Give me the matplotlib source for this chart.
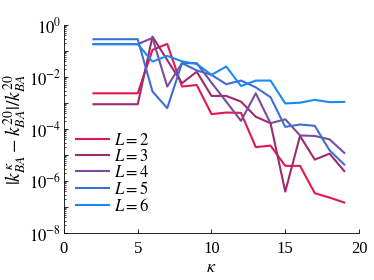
import numpy as np
import matplotlib
matplotlib.use('Agg')
import matplotlib.pyplot as plt
from matplotlib.ticker import LogLocator, FixedLocator, FuncFormatter, NullFormatter

plt.rcParams['font.family'] = 'Liberation Serif'
plt.rcParams['mathtext.fontset'] = 'stix'

kappa = list(range(2, 20))

# log10 of the relative error
L2 = [-2.63, -2.63, -2.63, -2.63, -0.96, -0.73, -2.37, -2.31, -3.43, -3.37,
      -3.38, -4.70, -4.64, -5.42, -5.42, -6.47, -6.64, -6.83]
L3 = [-3.05, -3.05, -3.05, -3.05, -0.45, -1.35, -2.24, -1.80, -2.73, -2.73,
      -2.95, -3.53, -3.78, -6.41, -4.27, -5.18, -4.95, -5.62]
L4 = [-0.74, -0.74, -0.74, -0.74, -0.50, -2.37, -1.47, -1.47, -2.22, -2.95,
      -3.69, -2.63, -3.78, -3.63, -4.25, -4.27, -4.40, -4.92]
L5 = [-0.55, -0.55, -0.55, -0.55, -2.56, -3.20, -1.47, -1.75, -1.92, -2.28,
      -2.14, -2.40, -2.78, -3.92, -3.83, -3.88, -4.82, -5.37]
L6 = [-0.74, -0.74, -0.74, -0.74, -1.41, -1.19, -1.40, -1.50, -1.92, -1.60,
      -2.35, -2.14, -2.14, -3.02, -2.99, -2.88, -2.97, -2.96]

series = [L2, L3, L4, L5, L6]
labels = ['$L = 2$', '$L = 3$', '$L = 4$', '$L = 5$', '$L = 6$']
colors = ['#E3174F', '#9F2A6E', '#7D4B9D', '#3E6ED4', '#1A8AF2']

fig = plt.figure(figsize=(3.74, 2.8), dpi=100)
ax = fig.add_axes([0.171, 0.168, 0.789, 0.743])

for vals, lab, c in zip(series, labels, colors):
    ax.semilogy(kappa, 10.0 ** np.array(vals), color=c, lw=1.5, label=lab)

ax.set_xlim(0, 20)
ax.set_ylim(1e-8, 1)
ax.xaxis.set_major_locator(FixedLocator([0, 5, 10, 15, 20]))

ax.yaxis.set_major_locator(LogLocator(base=10, numticks=20))
ax.yaxis.set_minor_locator(LogLocator(base=10, subs=np.arange(2, 10), numticks=100))
ax.yaxis.set_major_formatter(FuncFormatter(
    lambda v, p: '$10^{%d}$' % round(np.log10(v)) if round(np.log10(v)) % 2 == 0 else ''))
ax.yaxis.set_minor_formatter(NullFormatter())

ax.tick_params(direction='in', labelsize=12, length=3, width=0.6)
ax.tick_params(axis='x', pad=6)
ax.tick_params(axis='y', pad=2)
ax.tick_params(which='minor', direction='in', length=1.5, width=0.5)
ax.spines['top'].set_visible(False)
ax.spines['right'].set_visible(False)
for s in ['left', 'bottom']:
    ax.spines[s].set_linewidth(0.6)

ax.set_xlabel(r'$\kappa$', fontsize=13, labelpad=1)
ax.set_ylabel(r'$|k_{BA}^{\kappa} - k_{BA}^{20}|/k_{BA}^{20}$', fontsize=14, labelpad=0)

ax.legend(loc='lower left', frameon=False, fontsize=12, handlelength=2.0,
          handletextpad=0.3, labelspacing=0.0, borderaxespad=0.3,
          bbox_to_anchor=(0.0, 0.03))

fig.savefig('out.png', dpi=100)
